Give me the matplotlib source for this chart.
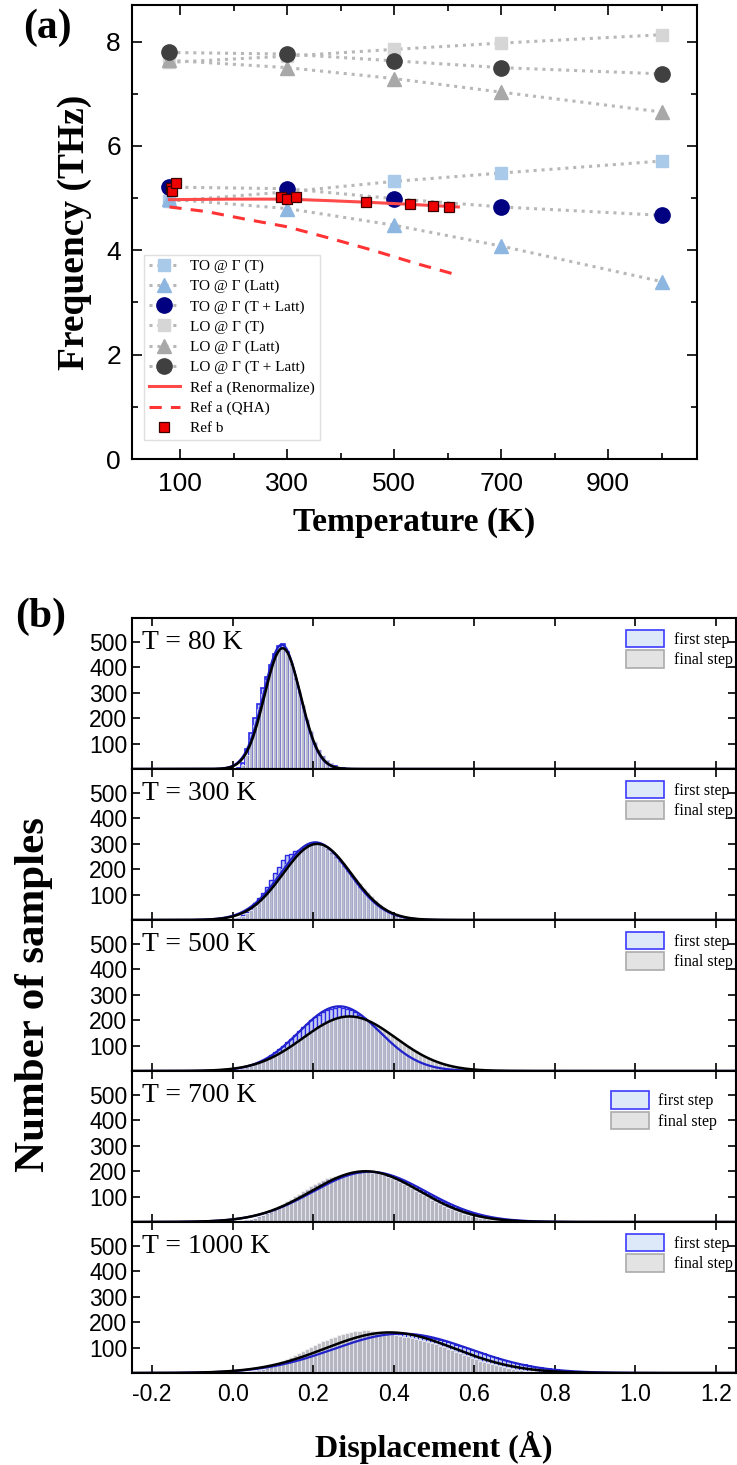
import numpy as np
import matplotlib
matplotlib.use('Agg')
import matplotlib.pyplot as plt
from matplotlib.patches import Patch
from matplotlib.ticker import MultipleLocator, FormatStrFormatter

plt.rcParams['axes.unicode_minus'] = False
SERIF = 'Liberation Serif'
SANS = 'Liberation Sans'

# ---------------- panel (a) data ----------------
temps = [80, 300, 500, 700, 1000]
to_t = [4.94, 5.12, 5.32, 5.48, 5.71]
to_latt = [4.98, 4.80, 4.48, 4.08, 3.40]
to_tl = [5.21, 5.18, 4.99, 4.83, 4.67]
lo_t = [7.60, 7.72, 7.85, 7.97, 8.13]
lo_latt = [7.64, 7.50, 7.29, 7.03, 6.65]
lo_tl = [7.79, 7.76, 7.63, 7.50, 7.38]

renorm_T = [80, 200, 300, 380, 450, 530, 620]
renorm_f = [4.97, 4.98, 4.98, 4.95, 4.92, 4.88, 4.83]
qha_T = [80, 150, 220, 300, 380, 460, 540, 620]
qha_f = [4.83, 4.74, 4.60, 4.45, 4.23, 4.00, 3.75, 3.52]
refb_T = [82, 85, 93, 288, 299, 317, 447, 530, 573, 602]
refb_f = [5.20, 5.13, 5.29, 5.02, 4.99, 5.03, 4.92, 4.88, 4.84, 4.83]

# ---------------- panel (b) data ----------------
panel_labels = ['T = 80 K', 'T = 300 K', 'T = 500 K', 'T = 700 K', 'T = 1000 K']
bin_width = 0.01

first_80 = [0, 5, 25, 78, 142, 200, 258, 318, 364, 410, 452, 486, 493, 462, 412, 356, 300, 244,
            190, 140, 100, 70, 46, 30, 18, 10, 5, 2, 1]
final_80 = [0, 3, 15, 55, 115, 175, 235, 295, 350, 400, 440, 470, 482, 458, 418, 368, 312, 256,
            202, 152, 112, 80, 54, 35, 22, 13, 8, 4, 2]

first_300 = [2, 8, 18, 32, 48, 66, 85, 108, 132, 158, 185, 210, 235, 255, 262, 270, 275, 285, 295,
             303, 306, 300, 290, 278, 265, 250, 232, 212, 192, 172, 152, 132, 114, 96, 80, 66, 53,
             42, 33, 25, 19, 14, 10, 7, 5, 3, 2, 1, 1, 0]
final_300 = [2, 6, 14, 26, 40, 56, 72, 90, 110, 132, 155, 178, 200, 220, 238, 255, 268, 280, 290,
             296, 300, 298, 292, 284, 272, 258, 242, 224, 206, 186, 166, 146, 128, 110, 93, 78, 64,
             52, 41, 32, 25, 19, 14, 10, 7, 5, 3, 2, 1, 1]

first_500 = [2, 5, 9, 14, 20, 26, 33, 42, 52, 62, 74, 86, 100, 114, 128, 142, 158, 172, 186, 200,
             212, 222, 232, 240, 246, 250, 252, 250, 246, 240, 231, 221, 209, 196, 182, 167, 152,
             137, 122, 108, 95, 82, 70, 60, 50, 42, 35, 29, 23, 19, 15, 12, 9, 7, 5, 4, 3, 2, 2,
             1, 1, 1, 0, 0, 0, 0, 0, 0, 0, 0]
final_500 = [2, 5, 9, 14, 20, 26, 32, 38, 45, 52, 60, 70, 80, 90, 100, 110, 121, 132, 143, 154,
             165, 175, 184, 192, 200, 206, 210, 213, 215, 215, 213, 210, 205, 198, 191, 182, 173,
             163, 152, 141, 130, 119, 108, 97, 86, 77, 68, 59, 51, 44, 37, 32, 27, 22, 18, 15, 12,
             10, 8, 6, 5, 4, 3, 2, 2, 1, 1, 1, 0, 0]

first_700 = [0, 2, 4, 6, 9, 13, 18, 24, 30, 37, 45, 54, 63, 72, 82, 92, 102, 112, 122, 131, 140,
             149, 157, 164, 171, 177, 182, 186, 189, 192, 194, 195, 196, 196, 195, 193, 190, 186,
             182, 177, 171, 165, 158, 151, 143, 135, 127, 119, 110, 102, 94, 86, 78, 71, 64, 57,
             51, 45, 40, 35, 30, 26, 22, 19, 16, 13, 11, 9, 8, 10, 6, 5, 7, 4, 3, 2, 2, 3, 1, 1,
             1, 1, 0, 0, 0]
final_700 = [1, 3, 5, 8, 12, 17, 22, 28, 35, 43, 52, 62, 72, 82, 92, 102, 112, 122, 132, 141, 150,
             158, 165, 172, 178, 183, 187, 190, 193, 195, 197, 198, 198, 197, 195, 192, 188, 184,
             178, 172, 165, 158, 150, 142, 133, 124, 115, 106, 97, 88, 80, 72, 64, 57, 50, 44, 38,
             33, 28, 24, 20, 17, 14, 11, 9, 7, 6, 5, 4, 3, 2, 2, 1, 1, 1, 0, 0, 0, 0, 0]

first_1000 = [0, 1, 2, 3, 5, 7, 10, 13, 17, 21, 26, 31, 36, 42, 48, 54, 60, 66, 72, 78, 84, 90, 96,
              102, 108, 113, 118, 123, 128, 132, 136, 139, 142, 145, 147, 149, 151, 152, 153, 154,
              154, 154, 153, 152, 151, 149, 147, 144, 141, 138, 134, 130, 126, 122, 117, 112, 107,
              102, 97, 92, 87, 82, 77, 72, 67, 62, 57, 53, 49, 45, 41, 37, 34, 31, 28, 25, 22, 20,
              18, 16, 14, 12, 11, 10, 9, 8, 7, 6, 5, 5, 4, 3, 3, 2, 2, 2, 1, 1, 1, 1, 1, 1, 0, 1,
              0, 0, 1, 0, 0, 0, 0, 1, 0, 0, 0, 0]
final_1000 = [0, 1, 2, 4, 6, 9, 13, 17, 22, 28, 34, 41, 48, 56, 64, 72, 80, 88, 96, 104, 110, 118,
              125, 131, 138, 143, 148, 153, 158, 162, 165, 167, 168, 168, 166, 164, 161, 158, 155,
              152, 149, 146, 143, 140, 137, 134, 131, 127, 123, 118, 113, 108, 102, 96, 90, 84, 78,
              72, 66, 60, 54, 49, 44, 39, 34, 30, 26, 22, 19, 16, 13, 11, 9, 7, 6, 5, 4, 3, 2, 2,
              1, 1, 1]

first_hists = [first_80, first_300, first_500, first_700, first_1000]
final_hists = [final_80, final_300, final_500, final_700, final_1000]

# Gaussian fit parameters
fit_first_amp = [490, 306, 255, 198, 155]
fit_first_mu = [0.122, 0.205, 0.265, 0.34, 0.42]
fit_first_sig = [0.045, 0.085, 0.10, 0.14, 0.17]
fit_final_amp = [476, 300, 215, 200, 160]
fit_final_mu = [0.124, 0.21, 0.29, 0.33, 0.39]
fit_final_sig = [0.045, 0.085, 0.115, 0.135, 0.16]

# per-panel rendering look (denser, bluer bars at low T; greyer at high T)
first_edge_lw = [1.2, 1.0, 0.9, 0.7, 0.7]
final_alpha = [0.62, 0.64, 0.70, 0.85, 0.85]

W, H = 737, 1465
fig = plt.figure(figsize=(W / 100, H / 100), dpi=100)


def style_ticks(ax, size):
    ax.tick_params(which='both', direction='in', top=True, right=True, width=1.2)
    ax.tick_params(which='major', length=7)
    ax.tick_params(which='minor', length=4)
    for lab in ax.get_xticklabels() + ax.get_yticklabels():
        lab.set_fontfamily(SANS)
        lab.set_fontsize(size)
    for s in ax.spines.values():
        s.set_linewidth(1.5)


# ---------------- panel (a) ----------------
axA = fig.add_axes([132 / W, 1 - 459 / H, 565 / W, 454 / H])
dot = (0, (1, 1.6))
lcol = '#b8b8b8'
series = [
    (to_t, 's', '#a9cbe9', 9, 'TO @ Γ (T)'),
    (to_latt, '^', '#8db6e0', 10, 'TO @ Γ (Latt)'),
    (to_tl, 'o', '#000080', 11, 'TO @ Γ (T + Latt)'),
    (lo_t, 's', '#d6d6d6', 9, 'LO @ Γ (T)'),
    (lo_latt, '^', '#a8a8a8', 10, 'LO @ Γ (Latt)'),
    (lo_tl, 'o', '#404040', 11, 'LO @ Γ (T + Latt)'),
]
for vals, mk, col, ms, lab in series:
    axA.plot(temps, vals, linestyle=dot, color=lcol, lw=2.2, marker=mk, ms=ms,
             mfc=col, mec=col, label=lab)
axA.plot(renorm_T, renorm_f, color='#ff4a4a', lw=2.2, label='Ref a (Renormalize)')
axA.plot(qha_T, qha_f, color='#ff3333', lw=2.2, dashes=(4, 3), label='Ref a (QHA)')
axA.plot(refb_T, refb_f, linestyle='none', marker='s', ms=7.5, mfc='#ee0000', mec='#3a0000',
         mew=0.9, label='Ref b')

axA.set_xlim(10, 1066)
axA.set_ylim(0, 8.7)
axA.set_xticks([100, 300, 500, 700, 900])
axA.xaxis.set_minor_locator(MultipleLocator(100))
axA.yaxis.set_major_locator(MultipleLocator(2))
axA.yaxis.set_minor_locator(MultipleLocator(1))
style_ticks(axA, 19)
axA.tick_params(axis='x', pad=9)
axA.tick_params(axis='y', pad=8)
axA.set_xlabel('Temperature (K)', fontfamily=SERIF, fontweight='bold', fontsize=24, labelpad=8)
axA.set_ylabel('Frequency (THz)', fontfamily=SERIF, fontweight='bold', fontsize=27, labelpad=10)
legA = axA.legend(loc='lower left', bbox_to_anchor=(0.022, 0.042), prop={'family': SERIF, 'size': 11},
                  frameon=True, fancybox=False, edgecolor='#d8d8d8', handlelength=2.0,
                  labelspacing=0.42, borderpad=0.3, handletextpad=0.7, borderaxespad=0.0)
legA.get_frame().set_linewidth(1.0)

fig.text(47 / W, 1 - 28 / H, '(a)', fontfamily=SERIF, fontweight='bold', fontsize=30,
         ha='center', va='center')

# ---------------- panel (b) ----------------
top_b = 618
ph = 151
xs = np.linspace(-0.25, 1.25, 600)
for i in range(5):
    ax = fig.add_axes([132 / W, 1 - (top_b + ph * (i + 1)) / H, 604 / W, ph / H])
    f1 = np.array(first_hists[i], dtype=float)
    f2 = np.array(final_hists[i], dtype=float)
    c1 = bin_width / 2 + bin_width * np.arange(len(f1))
    c2 = bin_width / 2 + bin_width * np.arange(len(f2))
    ax.bar(c1, f1, width=bin_width, facecolor='#c4cdf0', edgecolor='#2a2ae8',
           linewidth=first_edge_lw[i])
    ax.bar(c2, f2, width=bin_width, facecolor=(0.70, 0.70, 0.73, final_alpha[i]),
           edgecolor=(0.96, 0.96, 0.96, 0.85), linewidth=0.6)
    g1 = fit_first_amp[i] * np.exp(-0.5 * ((xs - fit_first_mu[i]) / fit_first_sig[i]) ** 2)
    g2 = fit_final_amp[i] * np.exp(-0.5 * ((xs - fit_final_mu[i]) / fit_final_sig[i]) ** 2)
    ax.plot(xs, g1, color='#2222cc', lw=1.6)
    ax.plot(xs, g2, color='black', lw=1.8)
    ax.set_xlim(-0.25, 1.25)
    ax.set_ylim(0, 595)
    ax.set_xticks(np.round(np.arange(-0.2, 1.21, 0.2), 1))
    ax.set_yticks([100, 200, 300, 400, 500])
    ax.xaxis.set_major_formatter(FormatStrFormatter('%.1f'))
    style_ticks(ax, 16.5)
    ax.tick_params(which='major', length=6)
    ax.tick_params(axis='x', pad=7)
    if i < 4:
        ax.tick_params(axis='x', labelbottom=False)
    ax.text(0.017, 0.835, panel_labels[i], transform=ax.transAxes, fontfamily=SERIF,
            fontsize=20, ha='left', va='center')
    handles = [Patch(facecolor='#dde9f8', edgecolor='#3b3bff', lw=1.2, label='first step'),
               Patch(facecolor='#e3e3e3', edgecolor='#ababab', lw=1.2, label='final step')]
    anchor = (0.985, 0.93) if i == 3 else (1.01, 0.985)
    ax.legend(handles=handles, loc='upper right', bbox_to_anchor=anchor,
              prop={'family': SERIF, 'size': 11.5}, frameon=False, handlelength=2.4,
              handleheight=1.3, labelspacing=0.15, handletextpad=0.6, borderaxespad=0.2)

fig.text(41 / W, 1 - 617 / H, '(b)', fontfamily=SERIF, fontweight='bold', fontsize=30,
         ha='center', va='center')
fig.text(34 / W, 1 - 995 / H, 'Number of samples', fontfamily=SERIF, fontweight='bold',
         fontsize=31, rotation=90, ha='center', va='center')
fig.text(434 / W, 1 - 1447 / H, 'Displacement (Å)', fontfamily=SERIF, fontweight='bold',
         fontsize=23, ha='center', va='center')

fig.savefig('out.png', dpi=100)
